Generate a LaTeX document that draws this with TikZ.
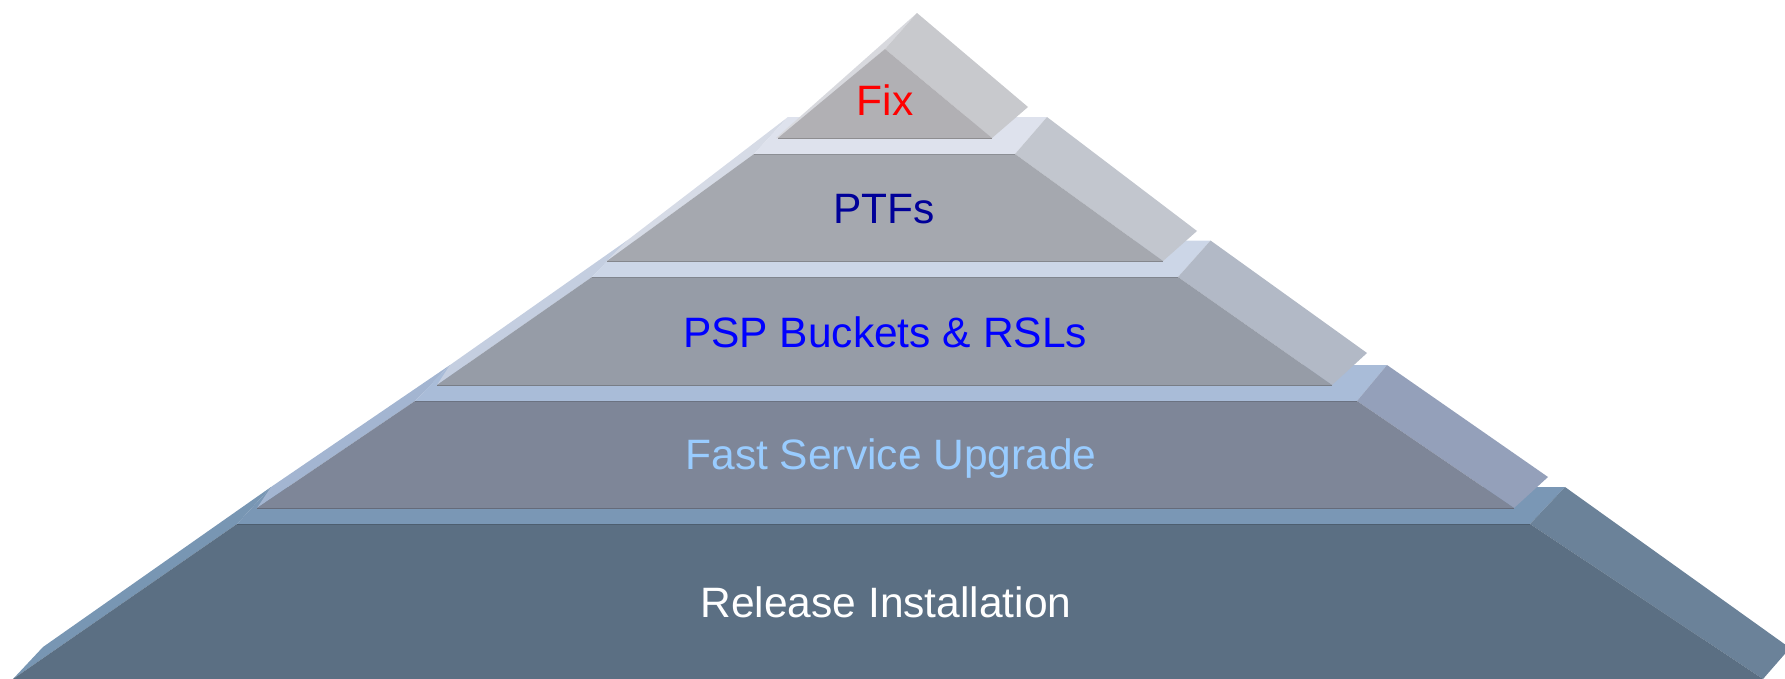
\documentclass[tikz,border=0pt]{standalone}
\usepackage{fontspec}
\setmainfont{Liberation Sans}
\definecolor{frontA}{HTML}{B1B0B4}
\definecolor{sideA}{HTML}{C8C9CD}
\definecolor{leftA}{HTML}{D8D9DE}
\definecolor{frontB}{HTML}{A5A8AF}
\definecolor{sideB}{HTML}{C2C6CE}
\definecolor{bandB}{HTML}{DEE2ED}
\definecolor{leftB}{HTML}{D6DBE6}
\definecolor{frontC}{HTML}{969CA7}
\definecolor{sideC}{HTML}{B2B9C6}
\definecolor{bandC}{HTML}{CCD6E7}
\definecolor{leftC}{HTML}{C4CEE0}
\definecolor{frontD}{HTML}{7E8698}
\definecolor{sideD}{HTML}{94A0BA}
\definecolor{bandD}{HTML}{A9BCD8}
\definecolor{leftD}{HTML}{A3B5D1}
\definecolor{frontE}{HTML}{5B6F83}
\definecolor{sideE}{HTML}{6B8299}
\definecolor{bandE}{HTML}{7A97B5}
\definecolor{leftE}{HTML}{7896B3}
\definecolor{navytext}{HTML}{000099}
\definecolor{bluetext}{HTML}{0000FF}
\definecolor{lightbluetext}{HTML}{99CCFF}
\begin{document}
\begin{tikzpicture}[x=1pt,y=-1pt,
  label/.style={font=\fontsize{42.5}{50}\selectfont, anchor=base, inner sep=0pt},
  edge/.style={line width=1pt, line join=round}]
\useasboundingbox (0,0) rectangle (1785,678);
\clip (0,0) rectangle (1785,678);
% ---- Tier 5: Release Installation
\fill[leftE] (271,487) -- (237,524) -- (13,679) -- (43,647) -- cycle;
\fill[bandE] (271,487) -- (1565,487) -- (1530,524) -- (237,524) -- cycle;
\fill[sideE] (1530,524) -- (1565,487) -- (1790,648) -- (1763,679) -- cycle;
\fill[frontE] (237,524) -- (1530,524) -- (1763,679) -- (13,679) -- cycle;
\draw[edge, frontE!85!black] (237,524) -- (1530,524);
% ---- Tier 4: Fast Service Upgrade
\fill[leftD] (450,365) -- (415,401) -- (257,508) -- (271,487) -- cycle;
\fill[bandD] (450,365) -- (1387,365) -- (1357,401) -- (415,401) -- cycle;
\fill[sideD] (1357,401) -- (1387,365) -- (1548,477) -- (1514,508) -- cycle;
\fill[frontD] (415,401) -- (1357,401) -- (1514,508) -- (257,508) -- cycle;
\draw[edge, frontD!85!black] (415,401) -- (1357,401);
\draw[edge, frontD!80!black] (257,508) -- (1514,508);
% ---- Tier 3: PSP Buckets & RSLs
\fill[leftC] (627,240.5) -- (592,277) -- (437,385) -- (450,365) -- cycle;
\fill[bandC] (627,240.5) -- (1210.5,240.5) -- (1178,277) -- (592,277) -- cycle;
\fill[sideC] (1178,277) -- (1210.5,240.5) -- (1367,353) -- (1332,385) -- cycle;
\fill[frontC] (592,277) -- (1178,277) -- (1332,385) -- (437,385) -- cycle;
\draw[edge, frontC!85!black] (592,277) -- (1178,277);
\draw[edge, frontC!80!black] (437,385) -- (1332,385);
% ---- Tier 2: PTFs
\fill[leftB] (788,117) -- (754,154) -- (607,261) -- (627,240.5) -- cycle;
\fill[bandB] (788,117) -- (1047,117) -- (1015,154) -- (754,154) -- cycle;
\fill[sideB] (1015,154) -- (1047,117) -- (1197,231) -- (1163,261) -- cycle;
\fill[frontB] (754,154) -- (1015,154) -- (1163,261) -- (607,261) -- cycle;
\draw[edge, frontB!85!black] (754,154) -- (1015,154);
\draw[edge, frontB!80!black] (607,261) -- (1163,261);
% ---- Tier 1: Fix
\fill[leftA] (917,13) -- (885,49) -- (780,138) -- (776,138) -- cycle;
\fill[sideA] (885,49) -- (917,13) -- (1028,107) -- (992,138) -- cycle;
\fill[frontA] (885,49) -- (992,138) -- (778,138) -- cycle;
\draw[edge, frontA!80!black] (778,138) -- (992,138);
% ---- Labels
\node[label, text=red] (fix) at (885,115) {Fix};
\node[label, text=navytext] (ptfs) at (884,223) {PTFs};
\node[label, text=bluetext] (psp) at (885,347) {PSP Buckets \& RSLs};
\node[label, text=lightbluetext] (fsu) at (891,469) {Fast Service Upgrade};
\node[label, text=white] (rel) at (886,617) {Release Installation};
\end{tikzpicture}
\end{document}
